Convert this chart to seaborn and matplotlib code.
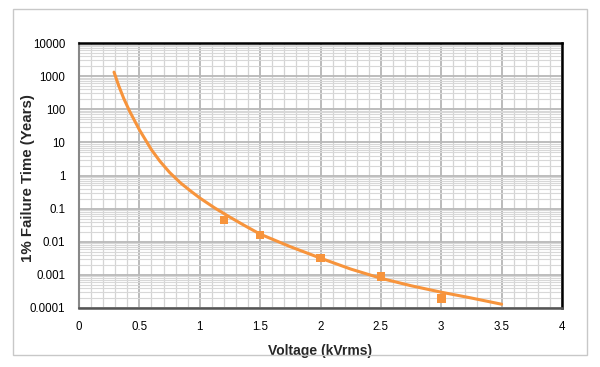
import numpy as np
import pandas as pd
import matplotlib
matplotlib.use('Agg')
import matplotlib.pyplot as plt
from matplotlib.ticker import FixedLocator, LogLocator, NullFormatter
from matplotlib.patches import Rectangle
import seaborn as sns

# Fitted lifetime curve
curve_kv = [0.29, 0.33, 0.37, 0.42, 0.5, 0.6, 0.67, 0.75, 0.84, 0.92, 1.0, 1.12, 1.24,
            1.37, 1.5, 1.75, 2.0, 2.25, 2.5, 2.75, 3.0, 3.25, 3.5]
curve_years = [1320, 500, 214, 86, 24, 6.0, 2.7, 1.24, 0.6, 0.35, 0.21, 0.107, 0.058,
               0.031, 0.017, 0.0071, 0.0032, 0.0015, 0.00079, 0.00047, 0.0003, 0.0002, 0.00013]

# Measured points
meas_kv = [1.2, 1.5, 2.0, 2.5, 3.0]
meas_years = [0.045, 0.016, 0.0032, 0.00088, 0.00019]

x_ticks = [0, 0.5, 1, 1.5, 2, 2.5, 3, 3.5, 4]
x_labels = ['0', '0.5', '1', '1.5', '2', '2.5', '3', '3.5', '4']
y_ticks = [1e4, 1e3, 1e2, 1e1, 1, 0.1, 0.01, 0.001, 0.0001]
y_labels = ['10000', '1000', '100', '10', '1', '0.1', '0.01', '0.001', '0.0001']

curve = pd.DataFrame({'kv': curve_kv, 'years': curve_years})
meas = pd.DataFrame({'kv': meas_kv, 'years': meas_years})

sns.set_style('white')
plt.rcParams['font.family'] = ['Liberation Sans', 'DejaVu Sans']

orange = '#F7943C'

fig = plt.figure(figsize=(6, 3.67), dpi=100)
fig.patch.set_facecolor('white')
fig.patches.append(Rectangle((13 / 600, 1 - 355 / 367), 574 / 600, 346 / 367,
                             transform=fig.transFigure, fill=False,
                             edgecolor='#c8c8c8', linewidth=1.0))
ax = fig.add_axes([79 / 600, 1 - 308 / 367, 483 / 600, 265 / 367])

ax.set_yscale('log')
ax.set_xlim(0, 4)
ax.set_ylim(1e-4, 1e4)

# grid
ax.xaxis.set_major_locator(FixedLocator(x_ticks))
ax.xaxis.set_minor_locator(FixedLocator(np.arange(0, 4.01, 0.1)))
ax.yaxis.set_major_locator(FixedLocator(y_ticks))
ax.yaxis.set_minor_locator(LogLocator(base=10, subs=np.arange(2, 10), numticks=20))
ax.yaxis.set_minor_formatter(NullFormatter())
ax.grid(which='major', axis='x', color='#a8a8a8', linewidth=1.1)
ax.grid(which='minor', axis='x', color='#d4d4d4', linewidth=0.9)
ax.grid(which='major', axis='y', color='#b8b8b8', linewidth=1.3)
ax.grid(which='minor', axis='y', color='#d8d8d8', linewidth=0.8)
ax.set_axisbelow(True)

sns.lineplot(data=curve, x='kv', y='years', ax=ax, color=orange, linewidth=2.2)
sns.scatterplot(data=meas, x='kv', y='years', ax=ax, color=orange, marker='s',
                s=38, edgecolor='none', zorder=5)

ax.set_xticks(x_ticks)
ax.set_xticklabels(x_labels)
ax.set_yticks(y_ticks)
ax.set_yticklabels(y_labels)
ax.tick_params(axis='both', which='both', length=0, labelsize=8.3, colors='black')
ax.tick_params(axis='x', pad=9)
ax.tick_params(axis='y', pad=10)

ax.set_xlabel('Voltage (kVrms)', fontsize=10, fontweight='bold', labelpad=8)
ax.set_ylabel('1% Failure Time (Years)', fontsize=10.8, fontweight='bold')
ax.yaxis.set_label_coords(-0.092, 0.49)

for side in ['top', 'right']:
    ax.spines[side].set_color('black')
    ax.spines[side].set_linewidth(1.8)
ax.spines['left'].set_color('#888888')
ax.spines['left'].set_linewidth(1.5)
ax.spines['bottom'].set_color('#555555')
ax.spines['bottom'].set_linewidth(1.8)

fig.savefig('out.png', dpi=100)
